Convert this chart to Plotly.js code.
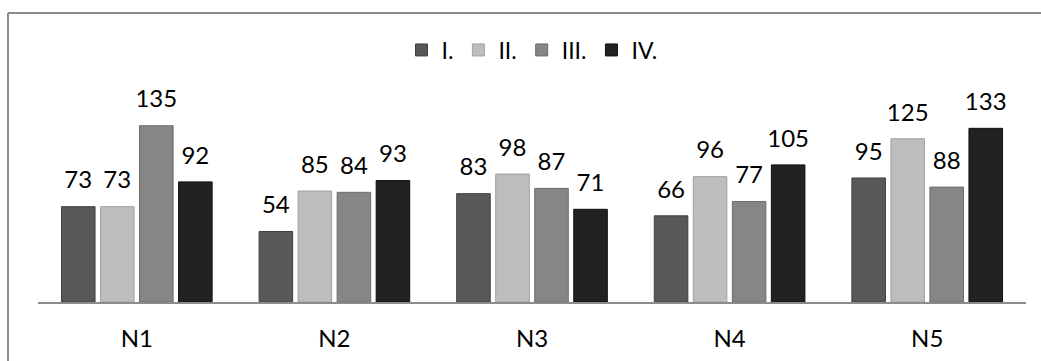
<!DOCTYPE html>
<html>
<head>
<meta charset="utf-8">
<script src="https://cdn.plot.ly/plotly-3.0.1.min.js"></script>
<style>
  html, body { margin: 0; padding: 0; background: #fff; }
  #chart { width: 1041px; height: 361px; }
</style>
</head>
<body>
<div id="chart"></div>
<script>
const categories = ["N1", "N2", "N3", "N4", "N5"];
const seriesNames = ["I.", "II.", "III.", "IV."];
const seriesI = [73, 54, 83, 66, 95];
const seriesII = [73, 85, 98, 96, 125];
const seriesIII = [135, 84, 87, 77, 88];
const seriesIV = [92, 93, 71, 105, 133];

const seriesValues = [seriesI, seriesII, seriesIII, seriesIV];
const fillColors = ["#585858", "#bdbdbd", "#868686", "#222222"];
const edgeColors = ["#404040", "#a0a0a0", "#6c6c6c", "#101010"];

const FONT = "Lato, 'Open Sans', sans-serif";

const traces = [];
seriesValues.forEach((vals, i) => {
  traces.push({
    type: "bar",
    name: seriesNames[i],
    x: categories,
    y: vals,
    offsetgroup: String(i),
    marker: { color: fillColors[i], line: { color: edgeColors[i], width: 1 } },
    hoverinfo: "skip"
  });
});
seriesValues.forEach((vals, i) => {
  traces.push({
    type: "scatter",
    mode: "markers+text",
    x: categories,
    y: vals,
    offsetgroup: String(i),
    text: vals.map(String),
    textposition: "top center",
    textfont: { family: FONT, size: 24, color: "#000" },
    marker: { size: 18, opacity: 0 },
    showlegend: false,
    hoverinfo: "skip",
    cliponaxis: false
  });
});

const L = 38, R = 15, T = 50, B = 59;
const W = 1041, H = 361;
const pw = W - L - R, ph = H - T - B;
const px = v => (v - L) / pw;
const py = v => (H - B - v) / ph;

const layout = {
  width: W, height: H,
  margin: { l: L, r: R, t: T, b: B, pad: 0 },
  paper_bgcolor: "#ffffff",
  plot_bgcolor: "#ffffff",
  barmode: "group",
  bargap: 0.21,
  bargroupgap: 0.14,
  scattermode: "group",
  scattergap: 0.21,
  showlegend: true,
  legend: {
    orientation: "h",
    x: 0.5, xanchor: "center",
    y: py(50), yanchor: "middle",
    font: { family: FONT, size: 23, color: "#000" },
    itemwidth: 30,
    traceorder: "normal",
    tracegroupgap: 0
  },
  xaxis: {
    type: "category",
    showgrid: false,
    zeroline: false,
    showline: true,
    linecolor: "#8c8c8c",
    linewidth: 2,
    ticks: "",
    ticklabelstandoff: 14,
    tickfont: { family: FONT, size: 24, color: "#000" },
    fixedrange: true
  },
  yaxis: {
    range: [0, 193],
    visible: false,
    showgrid: false,
    zeroline: false,
    fixedrange: true
  },
  shapes: [
    { type: "line", xref: "paper", yref: "paper", x0: px(8), x1: px(1041), y0: py(13), y1: py(13), line: { color: "#8c8c8c", width: 2 } },
    { type: "line", xref: "paper", yref: "paper", x0: px(8), x1: px(8), y0: py(13), y1: py(361), line: { color: "#8c8c8c", width: 2 } }
  ]
};

Plotly.newPlot("chart", traces, layout, { displayModeBar: false, staticPlot: true });
</script>
</body>
</html>
